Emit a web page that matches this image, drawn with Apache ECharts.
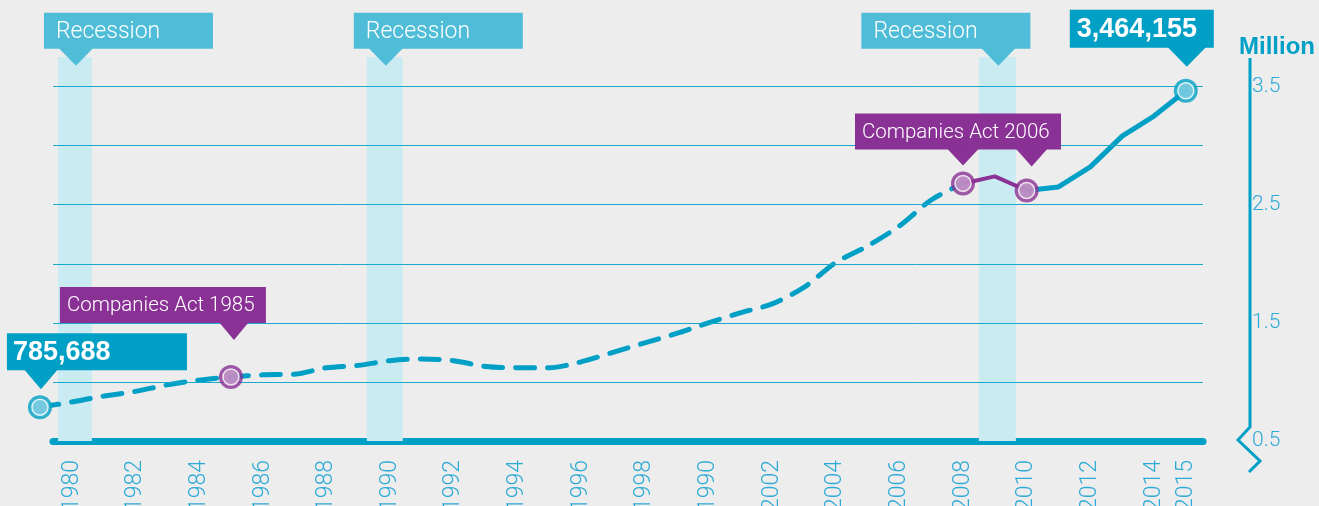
<!DOCTYPE html>
<html>
<head>
<meta charset="utf-8">
<script src="https://cdn.jsdelivr.net/npm/echarts@6/dist/echarts.min.js"></script>
<style>
  html, body { margin: 0; padding: 0; background: #ecedec; }
  #main { width: 1319px; height: 506px; }
</style>
</head>
<body>
<div id="main"></div>
<script>
// registered companies, millions
var years = [1979, 1980, 1981, 1982, 1983, 1984, 1985, 1986, 1987, 1988, 1989, 1990, 1991, 1992, 1993, 1994, 1995, 1996, 1997,
  1998, 1999, 2000, 2001, 2002, 2003, 2004, 2005, 2006, 2007, 2008, 2009, 2010, 2011, 2012, 2013, 2014, 2015]
var companies = [0.786, 0.83, 0.88, 0.92, 0.975, 1.015, 1.042, 1.06, 1.065, 1.12, 1.14, 1.18, 1.195, 1.18, 1.13, 1.12, 1.12, 1.17, 1.25,
  1.33, 1.41, 1.50, 1.585, 1.66, 1.80, 2.01, 2.15, 2.32, 2.54, 2.68, 2.74, 2.62, 2.65, 2.82, 3.08, 3.25, 3.464]

var dashedUntil = 2008      // estimates, drawn dashed
var act2006From = 2008
var act2006To = 2010
var blueMarkerYears = [1979, 2015]
var purpleMarkerYears = [1985, 2008, 2010]

var recessions = [[1979.57, 1980.63], [1989.27, 1990.4], [2008.5, 2009.66]]

var xTickValues = [1980, 1982, 1984, 1986, 1988, 1990, 1992, 1994, 1996, 1998, 2000, 2002, 2004, 2006, 2008, 2010, 2012, 2014, 2015]
var xTickLabels = ['1980', '1982', '1984', '1986', '1988', '1990', '1992', '1994', '1996', '1998', '1990', '2002', '2004', '2006', '2008', '2010', '2012', '2014', '2015']
var yLabelValues = [0.5, 1.5, 2.5, 3.5]
var yGridValues = [1, 1.5, 2, 2.5, 3, 3.5]

var BLUE = '#00a0c6'
var PURPLE = '#8a3195'
var TICK = '#2eaad6'
var FONT = 'Roboto, "Liberation Sans", sans-serif'

function pairs (from, to) {
  var out = []
  years.forEach(function (y, i) {
    if (y >= from && y <= to) out.push([y, companies[i]])
  })
  return out
}
function pick (list) {
  return list.map(function (y) { return [y, companies[years.indexOf(y)]] })
}

var option = {
  backgroundColor: '#ecedec',
  animation: false,
  grid: { left: 53, right: 116, top: 57, bottom: 65, containLabel: false, outerBoundsMode: 'none' },
  xAxis: {
    type: 'value',
    min: 1979.41,
    max: 2015.54,
    axisLine: { lineStyle: { color: BLUE, width: 7 } },
    axisTick: { show: false },
    splitLine: { show: false },
    axisLabel: {
      customValues: xTickValues,
      rotate: 90,
      margin: 19,
      fontSize: 23,
      fontWeight: 300,
      fontFamily: FONT,
      color: TICK,
      formatter: function (v) { return xTickLabels[xTickValues.indexOf(v)] }
    }
  },
  yAxis: {
    type: 'value',
    position: 'right',
    offset: 47,
    min: 0.5,
    max: 3.75,
    name: 'Million',
    nameLocation: 'end',
    nameGap: 10,
    nameTextStyle: {
      color: BLUE, fontSize: 24, fontWeight: 'bold', fontFamily: '"Liberation Sans", Arial, sans-serif',
      align: 'center', verticalAlign: 'middle', padding: [0, 0, 0, 54]
    },
    axisLine: { show: false },
    axisTick: { show: false },
    splitLine: { show: false },
    axisLabel: {
      customValues: yLabelValues,
      margin: 2,
      fontSize: 21,
      fontWeight: 300,
      fontFamily: FONT,
      color: TICK,
      formatter: function (v) { return v.toFixed(1) }
    }
  },
  series: [
    {
      name: 'recessions',
      type: 'line',
      data: [],
      z: 0,
      silent: true,
      markArea: {
        silent: true,
        itemStyle: { color: '#cbebf3' },
        data: recessions.map(function (r) { return [{ coord: [r[0], 0.5] }, { coord: [r[1], 3.75] }] })
      }
    },
    {
      name: 'grid',
      type: 'line',
      data: [],
      z: 1,
      silent: true,
      markLine: {
        silent: true,
        symbol: ['none', 'none'],
        label: { show: false },
        lineStyle: { color: '#1aa8cf', width: 1, type: 'solid' },
        data: yGridValues.map(function (v) { return { yAxis: v } })
      }
    },
    {
      name: 'estimated',
      type: 'line',
      data: pairs(years[0], dashedUntil),
      smooth: 0.3,
      clip: false,
      showSymbol: false,
      z: 3,
      lineStyle: { color: BLUE, width: 5, type: [19, 13], cap: 'round' }
    },
    {
      name: 'act2006',
      type: 'line',
      data: pairs(act2006From, act2006To),
      clip: false,
      showSymbol: false,
      z: 3,
      lineStyle: { color: PURPLE, width: 4 }
    },
    {
      name: 'recorded',
      type: 'line',
      data: pairs(act2006To, years[years.length - 1]),
      clip: false,
      showSymbol: false,
      z: 3,
      lineStyle: { color: BLUE, width: 5, cap: 'round', join: 'round' }
    },
    {
      type: 'scatter', data: pick(blueMarkerYears), clip: false, z: 5, symbolSize: 24,
      itemStyle: { color: BLUE }
    },
    {
      type: 'scatter', data: pick(blueMarkerYears), clip: false, z: 6, symbolSize: 16,
      itemStyle: { color: '#86d0e4', borderColor: '#fff', borderWidth: 1.5 }
    },
    {
      type: 'scatter', data: pick(purpleMarkerYears), clip: false, z: 5, symbolSize: 24,
      itemStyle: { color: PURPLE }
    },
    {
      type: 'scatter', data: pick(purpleMarkerYears), clip: false, z: 6, symbolSize: 16,
      itemStyle: { color: '#c69ccb', borderColor: '#fff', borderWidth: 1.5 }
    }
  ]
}

var myChart = echarts.init(document.getElementById('main'))
myChart.setOption(option)

function px (x, y) { return myChart.convertToPixel({ gridIndex: 0 }, [x, y]) }

// callout: box with pointer triangles, tips given in data coords plus pixel nudge
function callout (c) {
  var tips = c.tips.map(function (t) {
    var p = px(t[0], t[1])
    return [p[0] + t[2], p[1] + t[3]]
  })
  var boxBottom = tips[0][1] - c.triH
  var boxTop = boxBottom - c.h
  var boxLeft = tips[0][0] + c.dx
  var children = [{
    type: 'rect', z: 100, shape: { x: boxLeft, y: boxTop, width: c.w, height: c.h }, style: { fill: c.color }
  }]
  tips.forEach(function (t) {
    children.push({
      type: 'polygon',
      z: 100,
      shape: { points: [[t[0] - c.half, boxBottom - 1], [t[0] + c.half, boxBottom - 1], [t[0], t[1]]] },
      style: { fill: c.color }
    })
  })
  children.push({
    type: 'text',
    z: 101,
    style: {
      text: c.text, x: boxLeft + c.pad, y: boxTop + c.h / 2 + 1,
      fill: '#fff', font: c.font, verticalAlign: 'middle', textVerticalAlign: 'middle'
    }
  })
  return { type: 'group', z: 100, children: children }
}

var light = '300 23px ' + FONT
var small = '300 20.5px ' + FONT
var bold = 'bold 27px "Liberation Sans", Arial, sans-serif'

var callouts = recessions.map(function (r, i) {
  var mid = (r[0] + r[1]) / 2
  return {
    text: 'Recession', tips: [[mid, 3.675, 1, 0]], dx: i === 2 ? -137 : -32,
    w: 169, h: 36, half: 17.5, triH: 17, color: '#4fbcd8', pad: 12, font: light
  }
})
callouts.push({
  text: '785,688', tips: [[1979, companies[0], 1, -18]], dx: -34,
  w: 180, h: 37, half: 17, triH: 19, color: BLUE, pad: 6, font: bold
})
callouts.push({
  text: '3,464,155', tips: [[2015, companies[years.indexOf(2015)], 1, -24]], dx: -117,
  w: 144, h: 38, half: 19.5, triH: 19, color: BLUE, pad: 7, font: bold
})
callouts.push({
  text: 'Companies Act 1985', tips: [[1985, companies[years.indexOf(1985)], 3, -37]], dx: -174,
  w: 206, h: 36, half: 15, triH: 17, color: PURPLE, pad: 7, font: small
})
callouts.push({
  text: 'Companies Act 2006',
  tips: [[2008, companies[years.indexOf(2008)], 0, -18], [2010, companies[years.indexOf(2010)], 5, -24]],
  dx: -108, w: 206, h: 36, half: 16, triH: 16, color: PURPLE, pad: 7, font: small
})

var graphics = callouts.map(callout)

// broken right axis line
var axisTop = px(2015, 3.75)[1]
var axisX = 1250
graphics.push({
  type: 'polyline',
  z: 100,
  shape: { points: [[axisX, axisTop + 1], [axisX, 427], [1238, 440], [1260, 461], [1249, 472]] },
  style: { stroke: BLUE, lineWidth: 3, fill: null }
})

myChart.setOption({ graphic: { elements: graphics } })
</script>
</body>
</html>
